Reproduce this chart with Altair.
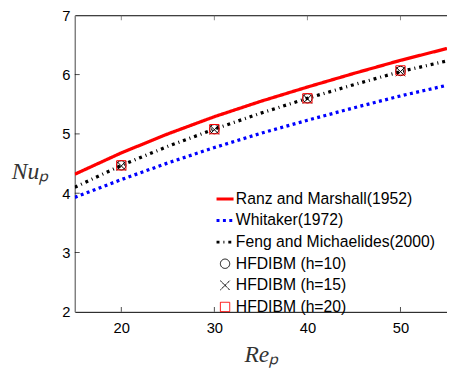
import altair as alt
import pandas as pd

# ---- data ----
re_curve = [15, 20, 25, 30, 35, 40, 45, 50, 55]
ranz = [4.32, 4.68, 5.00, 5.29, 5.55, 5.79, 6.02, 6.24, 6.44]
whitaker = [3.93, 4.23, 4.51, 4.77, 5.01, 5.23, 5.44, 5.64, 5.82]
feng = [4.10, 4.47, 4.79, 5.08, 5.35, 5.60, 5.83, 6.05, 6.23]

re_sim = [20, 30, 40, 50]
h10 = [4.47, 5.08, 5.60, 6.06]
h15 = [4.46, 5.07, 5.59, 6.05]
h20 = [4.47, 5.08, 5.60, 6.07]

x_ticks = [20, 30, 40, 50]
y_ticks = [2, 3, 4, 5, 6, 7]
y_inner_ticks = [3, 4, 5, 6]

series = ["Ranz and Marshall(1952)", "Whitaker(1972)", "Feng and Michaelides(2000)",
          "HFDIBM (h=10)", "HFDIBM (h=15)", "HFDIBM (h=20)"]
colors = ["#ff0000", "#0000ff", "#000000", "#000000", "#000000", "#ff0000"]
shapes = ["stroke", "stroke", "stroke", "circle", "M-1,-1L1,1M-1,1L1,-1", "square"]
dashes = [[1, 0], [3, 3.5], [3, 4, 1, 4], [1, 0], [1, 0], [1, 0]]

curve_rows = []
for name, vals in zip(series[:3], [ranz, whitaker, feng]):
    for r, v in zip(re_curve, vals):
        curve_rows.append({"Re": r, "Nu": v, "series": name})
curve_df = pd.DataFrame(curve_rows)

sim_rows = []
for name, vals in zip(series[3:], [h10, h15, h20]):
    for r, v in zip(re_sim, vals):
        sim_rows.append({"Re": r, "Nu": v, "series": name})
sim_df = pd.DataFrame(sim_rows)

xtick_df = pd.DataFrame({"Re": x_ticks})
ytick_df = pd.DataFrame({"Nu": y_inner_ticks})

xscale = alt.Scale(domain=[15, 55], nice=False, zero=False)
yscale = alt.Scale(domain=[2, 7], nice=False, zero=False)

xaxis = alt.Axis(values=x_ticks, orient="bottom", grid=False, ticks=False, tickSize=0,
                 domainColor="black", domainWidth=1, labelFontSize=15, labelFont="Liberation Sans",
                 labelColor="black", labelPadding=9, title="Reₚ", titleFont="Liberation Serif",
                 titleFontStyle="italic", titleFontWeight="normal", titleFontSize=24,
                 titleColor="#333333", titlePadding=8)
yaxis = alt.Axis(values=y_ticks, grid=False, ticks=False, tickSize=0, domainColor="#808080",
                 domainWidth=1.5, labelFontSize=15, labelFont="Liberation Sans", labelColor="black",
                 labelPadding=5, title="Nuₚ", titleAngle=0, titleX=-46, titleY=166,
                 titleAlign="center", titleBaseline="alphabetic", titleFont="Liberation Serif",
                 titleFontStyle="italic", titleFontWeight="normal", titleFontSize=24,
                 titleColor="#333333")
topaxis = alt.Axis(orient="top", labels=False, ticks=False, tickSize=0, grid=False,
                   domainColor="black", domainWidth=1, title=None)

legend = alt.Legend(
    title=None, orient="none", legendX=145, legendY=179,
    labelFontSize=16, labelFont="Liberation Sans", labelColor="black", labelLimit=0,
    labelOffset=3, rowPadding=6,
    symbolSize={"expr": "datum.index < 3 ? 300 : 90"},
    symbolStrokeWidth={"expr": "datum.index < 3 ? 3 : 1"},
    symbolFillColor="transparent",
)

color_enc = alt.Color("series:N", scale=alt.Scale(domain=series, range=colors), legend=legend)
dash_enc = alt.StrokeDash("series:N", scale=alt.Scale(domain=series, range=dashes), legend=legend)
shape_enc = alt.Shape("series:N", scale=alt.Scale(domain=series, range=shapes), legend=legend)

lines = alt.Chart(curve_df).mark_line(strokeWidth=3.3, clip=True).encode(
    x=alt.X("Re:Q", scale=xscale, axis=xaxis),
    y=alt.Y("Nu:Q", scale=yscale, axis=yaxis),
    color=color_enc,
    strokeDash=dash_enc,
)

points = alt.Chart(sim_df).mark_point(filled=False, size=90, strokeWidth=1, opacity=1).encode(
    x=alt.X("Re:Q", scale=xscale, axis=None),
    y=alt.Y("Nu:Q", scale=yscale, axis=yaxis),
    color=color_enc,
    shape=shape_enc,
)

bottom_ticks = alt.Chart(xtick_df).mark_tick(orient="vertical", size=5, thickness=1,
                                             color="black", yOffset=-2.5).encode(
    x=alt.X("Re:Q", scale=xscale, axis=None),
    y=alt.datum(2, scale=yscale, axis=yaxis),
)

top_ticks = alt.Chart(xtick_df).mark_tick(orient="vertical", size=5, thickness=1,
                                          color="#555555", yOffset=2.5).encode(
    x=alt.X("Re:Q", scale=xscale, axis=topaxis),
    y=alt.datum(7, scale=yscale, axis=yaxis),
)

left_ticks = alt.Chart(ytick_df).mark_tick(orient="horizontal", size=5, thickness=1,
                                           color="black", xOffset=2.5).encode(
    x=alt.datum(15, scale=xscale, axis=None),
    y=alt.Y("Nu:Q", scale=yscale, axis=yaxis),
)

chart = alt.layer(lines, points, bottom_ticks, top_ticks, left_ticks).resolve_axis(
    x="independent"
).properties(
    width=379, height=302,
    autosize=alt.AutoSizeParams(type="none"),
    padding={"left": 68, "top": 4, "right": 0, "bottom": 66},
    background="white",
).configure_view(stroke=None)

chart.save("out.html", embed_options={"renderer": "svg", "actions": False})
